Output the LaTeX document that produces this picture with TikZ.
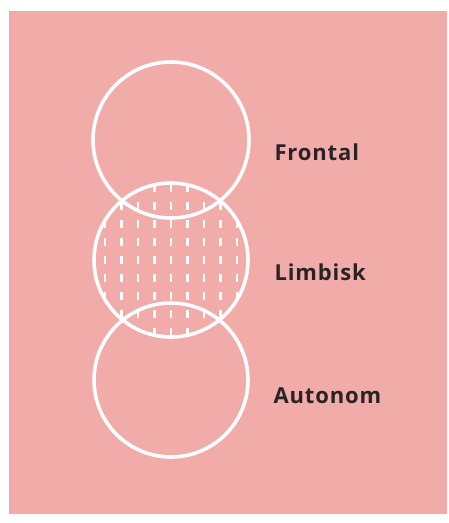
\documentclass[tikz,border=0pt]{standalone}
\usepackage{fontspec}
\newfontfamily\labelfont{Open Sans}[LetterSpace=4]
\definecolor{rosa}{RGB}{241,171,169}
\definecolor{mork}{RGB}{40,36,38}
\tikzset{
  ring/.style={draw=white,line width=3.6pt},
  hatch/.style={white,line width=2.4pt,dash pattern=on 8pt off 10pt},
  label/.style={anchor=west,text=mork,font=\labelfont\fontsize{22}{24}\selectfont\bfseries}
}
\begin{document}
\begin{tikzpicture}[x=1pt,y=-1pt]
  \useasboundingbox (0,0) rectangle (448,523);
  % Background card
  \fill[rosa] (9,11) rectangle (447,514);

  % Dashed fill of the middle circle
  \begin{scope}
    \clip (171,260) circle (77);
    \foreach \i in {0,...,8}
      \draw[hatch] ({105+16.5*\i},184) -- ({105+16.5*\i},340);
  \end{scope}

  % Three stacked circles
  \draw[ring] (171,140) circle (78);
  \draw[ring] (171,260) circle (77);
  \draw[ring] (171,380) circle (77);

  \node[label] (frontal) at (271,152) {Frontal};
  \node[label] (limbisk) at (271,272) {Limbisk};
  \node[label] (autonom) at (270,396) {Autonom};
\end{tikzpicture}
\end{document}
